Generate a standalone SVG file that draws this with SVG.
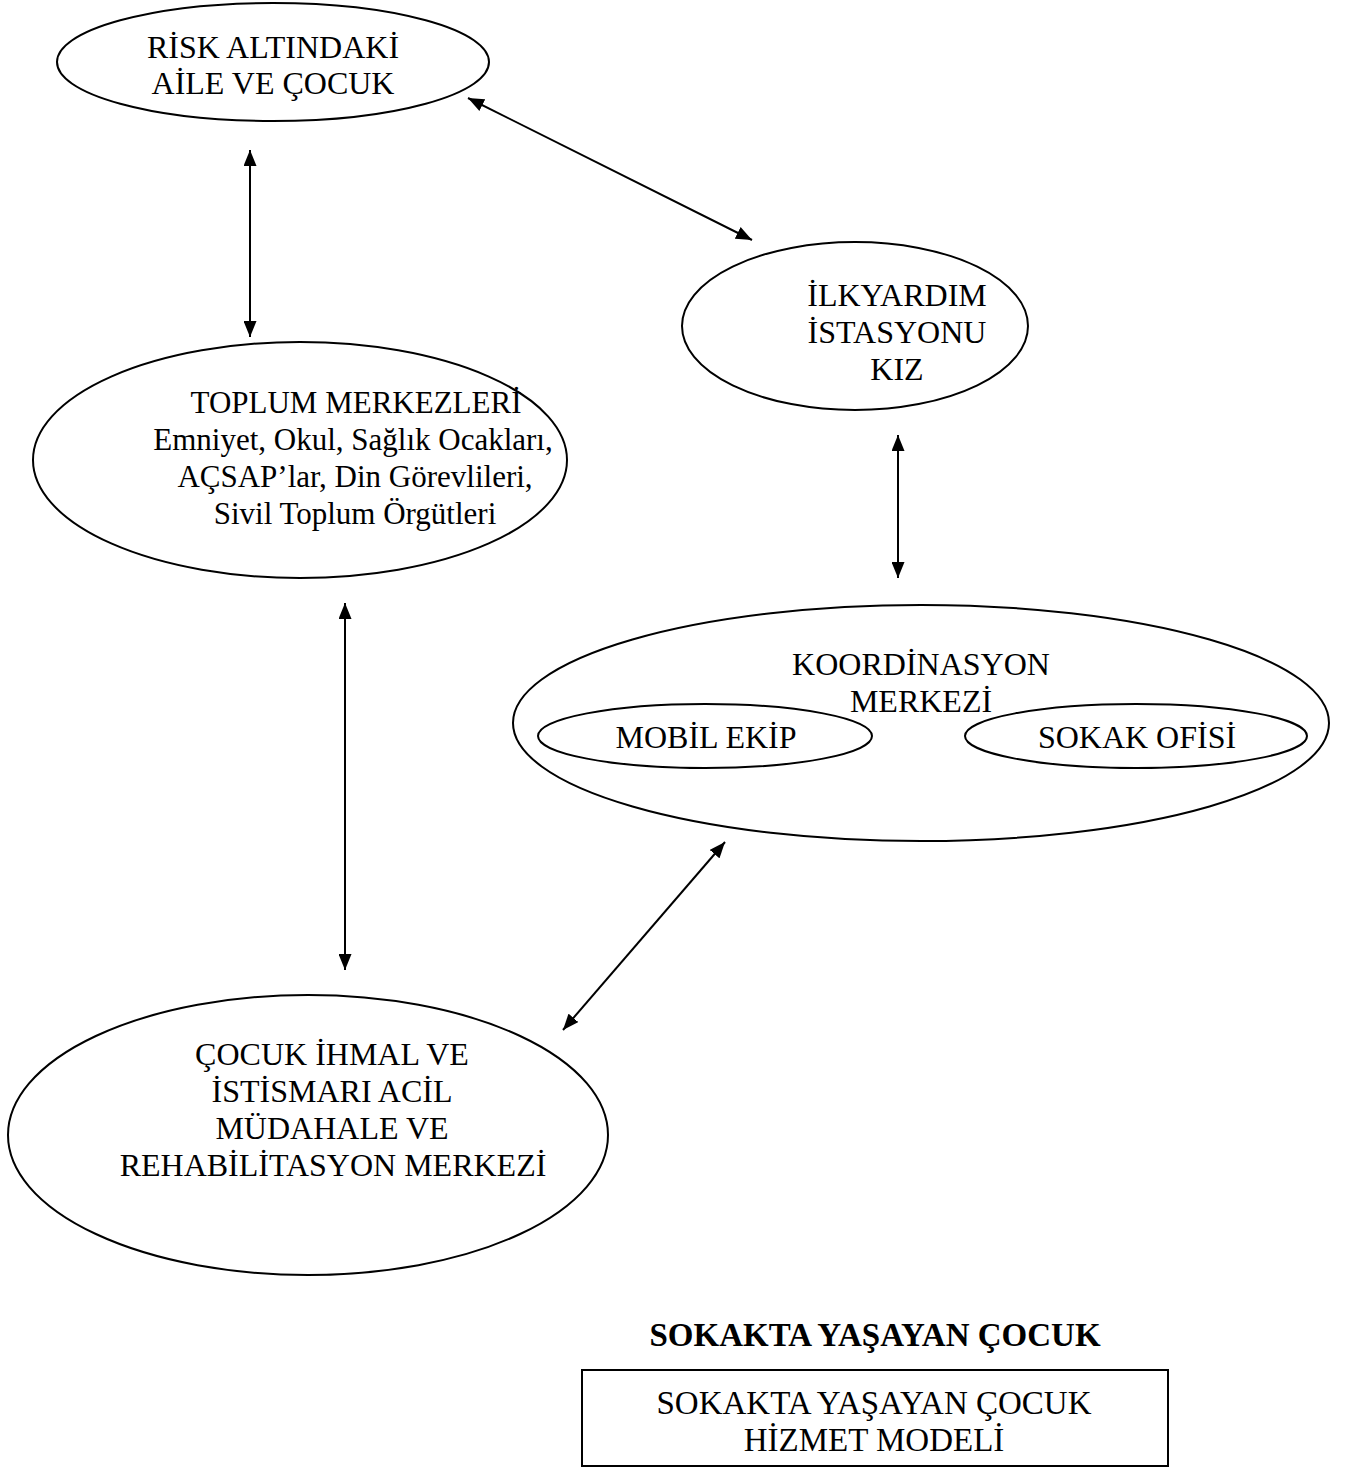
<svg xmlns="http://www.w3.org/2000/svg" width="1355" height="1468" viewBox="0 0 1355 1468">
<defs>
<marker id="ah" viewBox="0 0 16 13" refX="16" refY="6.5" markerWidth="16" markerHeight="13" markerUnits="userSpaceOnUse" orient="auto-start-reverse">
<path d="M0,0 L16,6.5 L0,13 z" fill="#000"/>
</marker>
<style>
.n{fill:#fff;stroke:#000;stroke-width:2}
.t{font-family:"Liberation Serif","Times New Roman",serif;font-size:32px;fill:#000;text-anchor:middle}
.s{font-size:31px}
.l{font-size:33px}
.b{font-weight:bold}
.c{stroke:#000;stroke-width:2;fill:none;marker-start:url(#ah);marker-end:url(#ah)}
</style>
</defs>
<rect width="1355" height="1468" fill="#fff"/>
<g id="connectors">
<line class="c" x1="250" y1="150" x2="250" y2="337"/>
<line class="c" x1="468" y1="98" x2="752" y2="240"/>
<line class="c" x1="898" y1="435" x2="898" y2="578"/>
<line class="c" x1="345" y1="603" x2="345" y2="970"/>
<line class="c" x1="725" y1="842" x2="563" y2="1030"/>
</g>
<g id="risk">
<ellipse class="n" cx="273" cy="62" rx="216" ry="59"/>
<text class="t" x="273" y="58">RİSK ALTINDAKİ</text>
<text class="t" x="273" y="94">AİLE VE ÇOCUK</text>
</g>
<g id="ilkyardim">
<ellipse class="n" cx="855" cy="326" rx="173" ry="84"/>
<text class="t" x="897" y="306">İLKYARDIM</text>
<text class="t" x="897" y="343">İSTASYONU</text>
<text class="t" x="897" y="380">KIZ</text>
</g>
<g id="toplum">
<ellipse class="n" cx="300" cy="460" rx="267" ry="118"/>
<text class="t s" x="356" y="413">TOPLUM MERKEZLERİ</text>
<text class="t s" x="353" y="450">Emniyet, Okul, Sağlık Ocakları,</text>
<text class="t s" x="355" y="487">AÇSAP’lar, Din Görevlileri,</text>
<text class="t s" x="355" y="524">Sivil Toplum Örgütleri</text>
</g>
<g id="koordinasyon">
<ellipse class="n" cx="921" cy="723" rx="408" ry="118"/>
<text class="t" x="921" y="675">KOORDİNASYON</text>
</g>
<g id="mobil">
<ellipse class="n" cx="705" cy="736" rx="167" ry="32"/>
<text class="t" x="706" y="748">MOBİL EKİP</text>
</g>
<g id="sokak">
<ellipse class="n" cx="1136" cy="736" rx="171" ry="32"/>
<text class="t" x="1137" y="748">SOKAK OFİSİ</text>
</g>
<g id="koordinasyon-label2">
<text class="t" x="921" y="712">MERKEZİ</text>
</g>
<g id="cocuk">
<ellipse class="n" cx="308" cy="1135" rx="300" ry="140"/>
<text class="t" x="332" y="1065">ÇOCUK İHMAL VE</text>
<text class="t" x="332" y="1102">İSTİSMARI ACİL</text>
<text class="t" x="332" y="1139">MÜDAHALE VE</text>
<text class="t" x="333" y="1176">REHABİLİTASYON MERKEZİ</text>
</g>
<g id="title">
<text class="t l b" x="875" y="1346">SOKAKTA YAŞAYAN ÇOCUK</text>
</g>
<g id="model">
<rect class="n" x="582" y="1370" width="586" height="96"/>
<text class="t l" x="874" y="1414">SOKAKTA YAŞAYAN ÇOCUK</text>
<text class="t l" x="874" y="1451">HİZMET MODELİ</text>
</g>
</svg>
